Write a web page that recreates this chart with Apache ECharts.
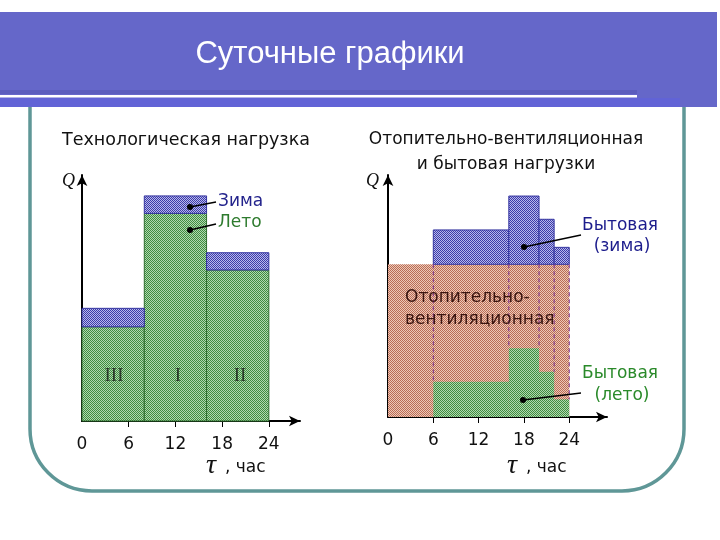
<!DOCTYPE html>
<html><head><meta charset="utf-8">
<script src="https://cdn.jsdelivr.net/npm/echarts@6/dist/echarts.min.js"></script>
<style>html,body{margin:0;padding:0;background:#fff}#c{width:720px;height:540px}</style>
</head><body><div id="c"></div>
<script>
// ---- data ----
const xTickLabels = [0, 6, 12, 18, 24];
const xTickMarks = [6, 12, 18, 24];
const shiftEdges = [0, 8, 16, 24];
const shiftNames = ['III', 'I', 'II'];
const techSummer = [38.3, 84.4, 61.4];
const techWinter = [45.8, 91.5, 68.4];
const heatEdges = [0, 24];
const heating = [63.1];
const domEdges = [6, 16, 20, 22, 24];
const domWinter = [14.2, 28.2, 18.6, 7.0];
const domSummer = [14.6, 28.4, 18.7, 7.3];

function pat(dark, light) {
  const c = document.createElement('canvas'); c.width = 2; c.height = 2;
  const g = c.getContext('2d');
  g.fillStyle = light; g.fillRect(0, 0, 2, 2);
  g.fillStyle = dark; g.fillRect(0, 0, 1, 1); g.fillRect(1, 1, 1, 1);
  return { image: c, repeat: 'repeat' };
}
const GREEN = pat('#3f8c3f', '#b0d8b0');
const BLUE = pat('#3c3ca8', '#b8b8ec');
const ORANGE = pat('#b86c56', '#eec8b6');

function rectSeries(gi, data, fill, stroke, z) {
  return {
    type: 'custom', xAxisIndex: gi, yAxisIndex: gi, z: z, silent: true,
    encode: { x: [0, 1], y: [2, 3] }, data: data,
    renderItem: function (params, api) {
      const a = api.coord([api.value(0), api.value(3)]);
      const b = api.coord([api.value(1), api.value(2)]);
      return { type: 'rect', shape: { x: a[0], y: a[1], width: b[0] - a[0], height: b[1] - a[1] },
        style: { fill: fill, stroke: stroke, lineWidth: stroke ? 1 : 0 } };
    }
  };
}

// left chart rects
const leftSummer = [], leftWinter = [];
for (let i = 0; i < techSummer.length; i++) {
  leftSummer.push([shiftEdges[i], shiftEdges[i + 1], 0, techSummer[i]]);
  leftWinter.push([shiftEdges[i], shiftEdges[i + 1], techSummer[i], techWinter[i]]);
}
// right chart rects
const heatRects = [[heatEdges[0], heatEdges[1], 0, heating[0]]];
const sumRects = [], winRects = [];
for (let i = 0; i < domSummer.length; i++) {
  sumRects.push([domEdges[i], domEdges[i + 1], 0, domSummer[i]]);
  winRects.push([domEdges[i], domEdges[i + 1], heating[0], heating[0] + domWinter[i]]);
}
const dashData = [];
for (let i = 0; i < domEdges.length; i++) {
  const l = i > 0 ? domSummer[i - 1] : 0, r = i < domSummer.length ? domSummer[i] : 0;
  dashData.push([domEdges[i], heating[0], Math.max(l, r)]);
}

function axisX(gi, max) {
  return {
    type: 'value', gridIndex: gi, min: 0, max: max,
    axisLine: { show: true, lineStyle: { color: '#000', width: 2 }, symbol: ['none', 'arrow'], symbolSize: [8, 11] },
    axisTick: { show: true, customValues: xTickMarks, length: 6, lineStyle: { color: '#000', width: 1 } },
    axisLabel: { show: true, customValues: xTickLabels, margin: 15, color: '#111', fontSize: 17, fontFamily: 'DejaVu Sans' },
    splitLine: { show: false }
  };
}
function axisY(gi) {
  return {
    type: 'value', gridIndex: gi, min: 0, max: 100,
    axisLine: { show: true, lineStyle: { color: '#000', width: 2 }, symbol: ['none', 'arrow'], symbolSize: [8, 11] },
    axisTick: { show: false }, axisLabel: { show: false }, splitLine: { show: false }
  };
}

const T = (x, y, text, fill, size, extra) => ({
  type: 'text', x: x, y: y, z: 100,
  style: Object.assign({ text: text, fill: fill, fontSize: size, fontFamily: 'DejaVu Sans', textVerticalAlign: 'middle' }, extra || {})
});
const L = (x1, y1, x2, y2) => ({ type: 'line', z: 100, shape: { x1, y1, x2, y2 }, style: { stroke: '#000', lineWidth: 1.5 } });
const D = (x, y) => ({ type: 'circle', z: 100, shape: { cx: x, cy: y, r: 3 }, style: { fill: '#000' } });

const chart = echarts.init(document.getElementById('c'));
chart.setOption({
  animation: false,
  backgroundColor: '#fff',
  grid: [
    { left: 82, top: 175, width: 218, height: 246 },
    { left: 388, top: 175, width: 219, height: 242 }
  ],
  xAxis: [axisX(0, 28), axisX(1, 29)],
  yAxis: [axisY(0), axisY(1)],
  series: [
    rectSeries(0, leftSummer, GREEN, '#2e6e2e', 2),
    rectSeries(0, leftWinter, BLUE, '#3434a0', 3),
    rectSeries(1, heatRects, ORANGE, null, 2),
    rectSeries(1, sumRects, GREEN, null, 3),
    rectSeries(1, winRects, BLUE, '#3434a0', 4),
    {
      type: 'custom', xAxisIndex: 1, yAxisIndex: 1, z: 5, silent: true,
      encode: { x: 0, y: [1, 2] }, data: dashData,
      renderItem: function (params, api) {
        const a = api.coord([api.value(0), api.value(1)]);
        const b = api.coord([api.value(0), api.value(2)]);
        return { type: 'line', shape: { x1: a[0], y1: a[1], x2: b[0], y2: b[1] },
          style: { stroke: '#7a2e8e', lineWidth: 1, lineDash: [4, 3] } };
      }
    }
  ],
  graphic: [
    { type: 'rect', z: 0, shape: { x: 30, y: 98, width: 654, height: 393, r: [0, 0, 62, 62] },
      style: { fill: '#fff', stroke: '#5f9797', lineWidth: 3.5 } },
    { type: 'rect', z: 10, shape: { x: 0, y: 12, width: 717, height: 95 }, style: { fill: '#6567c9' } },
    { type: 'rect', z: 11, shape: { x: 0, y: 90, width: 637, height: 4 }, style: { fill: '#5b5dbd' } },
    { type: 'rect', z: 11, shape: { x: 0, y: 95, width: 637, height: 2.5 }, style: { fill: '#ffffff' } },
    { type: 'rect', z: 11, shape: { x: 0, y: 98, width: 680, height: 9 }, style: { fill: '#6163d6' } },
    T(330, 54, 'Суточные графики', '#ffffff', 31, { fontFamily: 'Liberation Sans', textAlign: 'center' }),
    T(62, 140, 'Технологическая нагрузка', '#111', 17.5),
    T(506, 140, 'Отопительно-вентиляционная', '#111', 17, { textAlign: 'center' }),
    T(506, 165, 'и бытовая нагрузки', '#111', 17, { textAlign: 'center' }),
    T(62, 181, 'Q', '#111', 18, { fontFamily: 'Liberation Serif', fontStyle: 'italic' }),
    T(366, 181, 'Q', '#111', 18, { fontFamily: 'Liberation Serif', fontStyle: 'italic' }),
    // left labels
    T(218, 202, 'Зима', '#23238c', 17),
    T(218, 223, 'Лето', '#2e7b2e', 17),
    L(190, 207, 216, 202), D(190, 207),
    L(190, 230, 216, 224), D(190, 230),
    T(114, 376, shiftNames[0], '#2a3a2a', 19, { fontFamily: 'Liberation Serif', textAlign: 'center' }),
    T(178, 376, shiftNames[1], '#2a3a2a', 19, { fontFamily: 'Liberation Serif', textAlign: 'center' }),
    T(240, 376, shiftNames[2], '#2a3a2a', 19, { fontFamily: 'Liberation Serif', textAlign: 'center' }),
    // right labels
    T(620, 226, 'Бытовая', '#1c1c8c', 17, { textAlign: 'center' }),
    T(622, 247, '(зима)', '#1c1c8c', 17, { textAlign: 'center' }),
    L(524, 247, 581, 235), D(524, 247),
    T(405, 298, 'Отопительно-', '#3a1510', 17),
    T(405, 320, 'вентиляционная', '#3a1510', 17),
    T(620, 374, 'Бытовая', '#2a8a2a', 17, { textAlign: 'center' }),
    T(622, 396, '(лето)', '#2a8a2a', 17, { textAlign: 'center' }),
    L(523, 400, 581, 393), D(523, 400),
    // axis names
    T(206, 466, 'τ', '#111', 28, { fontFamily: 'Liberation Serif', fontStyle: 'italic' }),
    T(225, 468, ', час', '#111', 17),
    T(507, 466, 'τ', '#111', 28, { fontFamily: 'Liberation Serif', fontStyle: 'italic' }),
    T(526, 468, ', час', '#111', 17)
  ]
});
</script></body></html>
